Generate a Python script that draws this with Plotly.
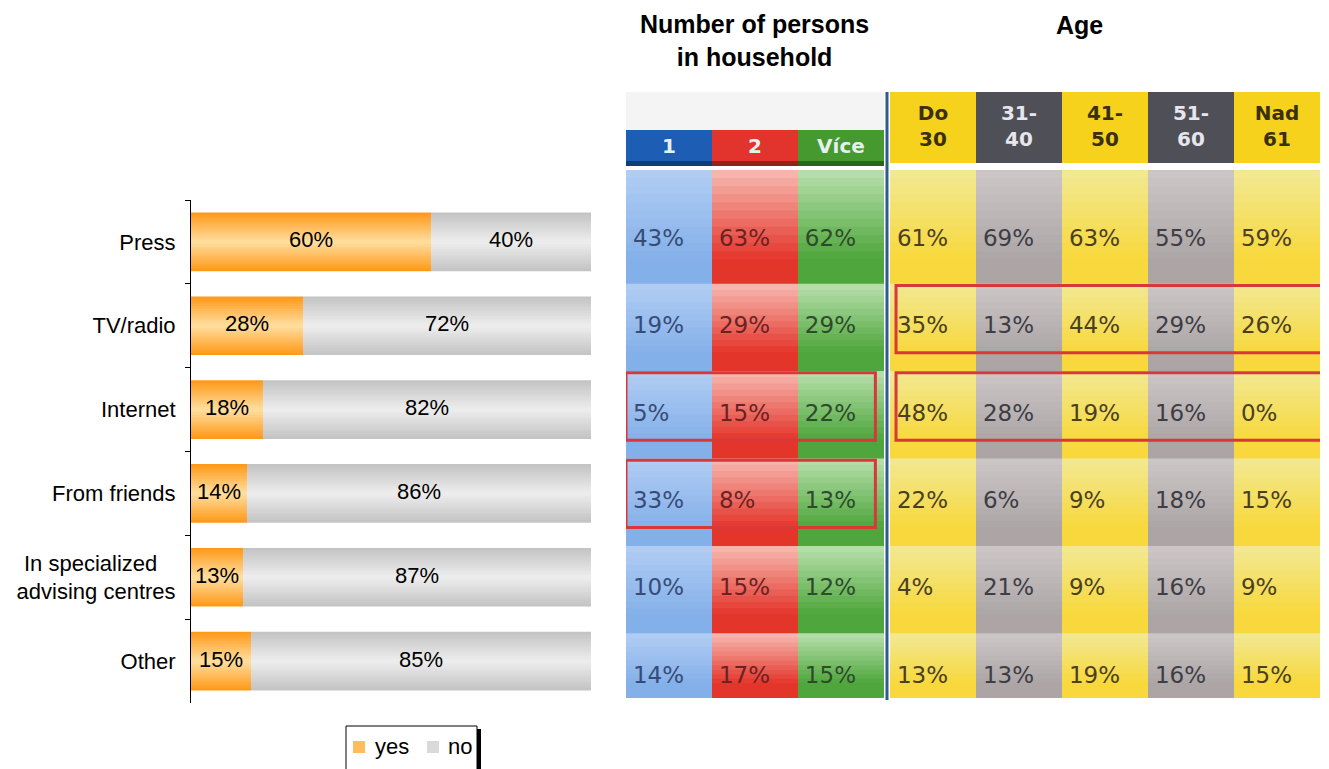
import plotly.graph_objects as go

# left chart: where people get information
categories = ["Press", "TV/radio", "Internet", "From friends",
              "In specialized&nbsp;&nbsp;&nbsp;<br>advising centres", "Other"]
yes = [60, 28, 18, 14, 13, 15]
no = [40, 72, 82, 86, 87, 85]

# right table: share of "yes" by household size and age group
hh_cols = ["1", "2", "Více"]
age_cols = ["Do<br>30", "31-<br>40", "41-<br>50", "51-<br>60", "Nad<br>61"]
hh_1 = [43, 19, 5, 33, 10, 14]
hh_2 = [63, 29, 15, 8, 15, 17]
hh_more = [62, 29, 22, 13, 12, 15]
age_30 = [61, 35, 48, 22, 4, 13]
age_31_40 = [69, 13, 28, 6, 21, 13]
age_41_50 = [63, 44, 19, 9, 9, 19]
age_51_60 = [55, 29, 16, 18, 16, 16]
age_61 = [59, 26, 0, 15, 9, 15]
# highlighted blocks: (row, first column, last column)
highlights = [(1, 3, 7), (2, 3, 7), (2, 0, 2), (3, 0, 2)]

W, H = 1329, 769


def px(x):
    return x / W


def py(y):
    return 1 - y / H


def mix(c1, c2, t):
    a = [int(c1[i:i + 2], 16) for i in (1, 3, 5)]
    b = [int(c2[i:i + 2], 16) for i in (1, 3, 5)]
    return "#" + "".join("%02x" % round(a[k] + (b[k] - a[k]) * t) for k in range(3))


FONT = "Liberation Sans, Arial, sans-serif"
fig = go.Figure()

# stacked bars, drawn as a few overlaid layers to fake the glossy gradient
n_layers = 12
for i in range(n_layers):
    t = i / (n_layers - 1)
    w = 0.70 * (1 - i / n_layers)
    fig.add_trace(go.Bar(y=categories, x=yes, base=0, orientation="h", width=w,
                         marker=dict(color=mix("#ff9a1c", "#ffdc9a", t), line_width=0),
                         hoverinfo="skip", showlegend=False))
    fig.add_trace(go.Bar(y=categories, x=no, base=yes, orientation="h", width=w,
                         marker=dict(color=mix("#c4c4c4", "#ececec", t), line_width=0),
                         hoverinfo="skip", showlegend=False))

fig.add_trace(go.Scatter(y=categories, x=[v / 2 for v in yes], mode="text",
                         text=["%d%%" % v for v in yes],
                         textfont=dict(family=FONT, size=22, color="black"),
                         showlegend=False, hoverinfo="skip"))
fig.add_trace(go.Scatter(y=categories, x=[a + b / 2 for a, b in zip(yes, no)], mode="text",
                         text=["%d%%" % v for v in no],
                         textfont=dict(family=FONT, size=22, color="black"),
                         showlegend=False, hoverinfo="skip"))

# ---- right table ----
ROW0, ROWH = 240, 87.4   # pixel centre of first row, row pitch


def ry(p):
    return (p - ROW0) / ROWH


GAP = 0.07


def col_left(i):
    return i + (GAP if i >= 3 else 0)


blue = ("#b0ccf3", "#84b0e9", "#364c78")
red = ("#f6b4ac", "#e4352a", "#6a2222")
green = ("#b4dda8", "#4ea63c", "#2d4b2a")
yellow = ("#f2e890", "#f8d83c", "#4a4020")
grey = ("#ccc5c5", "#ada5a5", "#3d3d46")
styles = [blue, red, green, yellow, grey, yellow, grey, yellow]
all_vals = [hh_1, hh_2, hh_more, age_30, age_31_40, age_41_50, age_51_60, age_61]
n_rows = len(hh_1)

bounds = [ry(170)] + [k + 0.5 for k in range(n_rows - 1)] + [ry(697)]
n_strips = 14
for i, st in enumerate(styles):
    x0 = col_left(i)
    for k in range(n_rows):
        y0, y1 = bounds[k], bounds[k + 1]
        h = (y1 - y0) / n_strips
        for j in range(n_strips):
            t = min(1.0, j / (n_strips * 0.75))
            fig.add_shape(type="rect", xref="x2", yref="y2", layer="below",
                          x0=x0, x1=x0 + 1, y0=y0 + j * h, y1=y0 + (j + 1) * h + 0.012,
                          fillcolor=mix(st[0], st[1], t), line_width=0)

# headers
fig.add_shape(type="rect", xref="x2", yref="y2", layer="below", x0=0, x1=3,
              y0=ry(92), y1=ry(130), fillcolor="#f4f4f4", line_width=0)
hh_head = ["#1d5db3", "#e2342c", "#45992f"]
for i, c in enumerate(hh_head):
    fig.add_shape(type="rect", xref="x2", yref="y2", layer="below", x0=col_left(i), x1=col_left(i) + 1,
                  y0=ry(130), y1=ry(166), fillcolor=c, line_width=0)
    fig.add_shape(type="rect", xref="x2", yref="y2", layer="below", x0=col_left(i), x1=col_left(i) + 1,
                  y0=ry(161), y1=ry(166), fillcolor=mix(c, "#000000", 0.35), line_width=0)
age_head = ["#f6d21c", "#4f4f57", "#f6d21c", "#4f4f57", "#f6d21c"]
for i, c in enumerate(age_head):
    fig.add_shape(type="rect", xref="x2", yref="y2", layer="below", x0=col_left(i + 3), x1=col_left(i + 3) + 1,
                  y0=ry(92), y1=ry(163), fillcolor=c, line_width=0)

fig.add_trace(go.Scatter(x=[col_left(i) + 0.5 for i in range(3)], y=[ry(148)] * 3,
                         mode="text", text=["<b>%s</b>" % c for c in hh_cols],
                         textfont=dict(family="DejaVu Sans", size=20, color="#e4f2ee"),
                         xaxis="x2", yaxis="y2", showlegend=False, hoverinfo="skip"))
fig.add_trace(go.Scatter(x=[col_left(i + 3) + 0.5 for i in range(5)], y=[ry(128)] * 5,
                         mode="text", text=["<b>%s</b>" % c for c in age_cols],
                         textfont=dict(family="DejaVu Sans", size=20,
                                       color=["#3a3010" if c == "#f6d21c" else "#e6e6ec" for c in age_head]),
                         xaxis="x2", yaxis="y2", showlegend=False, hoverinfo="skip"))

# values
for i, vals in enumerate(all_vals):
    fig.add_trace(go.Scatter(x=[col_left(i) + 0.08] * n_rows, y=list(range(n_rows)),
                             mode="text", textposition="middle right",
                             text=["%d%%" % v for v in vals],
                             textfont=dict(family="Verdana, DejaVu Sans", size=23, color=styles[i][2]),
                             xaxis="x2", yaxis="y2", showlegend=False, hoverinfo="skip"))

# divider
fig.add_shape(type="line", xref="x2", yref="y2", x0=3 + GAP / 2, x1=3 + GAP / 2,
              y0=ry(92), y1=ry(700), line=dict(color="#2b5c8a", width=3))

# red highlight frames
for r, c0, c1 in highlights:
    if c0 >= 3:
        x0, x1 = col_left(c0) + 0.07, col_left(c1) + 1.02
    else:
        x0, x1 = col_left(c0), col_left(c1) + 0.9
    fig.add_shape(type="rect", xref="x2", yref="y2", x0=x0, x1=x1, y0=r - 0.48, y1=r + 0.29,
                  line=dict(color="#d8383a", width=3))

# titles
fig.add_annotation(x=px(754), y=py(40), xref="paper", yref="paper", showarrow=False,
                   xanchor="center", yanchor="middle",
                   text="<b>Number of persons<br>in household</b>",
                   font=dict(family=FONT, size=25, color="black"))
fig.add_annotation(x=px(1079), y=py(25), xref="paper", yref="paper", showarrow=False,
                   xanchor="center", yanchor="middle",
                   text="<b>Age</b>", font=dict(family=FONT, size=25, color="black"))

# legend box (drawn by hand, it is clipped at the bottom like the original)
fig.add_shape(type="rect", xref="paper", yref="paper", x0=px(346), x1=px(477), y0=py(790), y1=py(726),
              line=dict(color="black", width=1), fillcolor="white")
fig.add_shape(type="rect", xref="paper", yref="paper", x0=px(477), x1=px(481), y0=py(790), y1=py(729),
              line_width=0, fillcolor="black")
fig.add_shape(type="rect", xref="paper", yref="paper", x0=px(353), x1=px(365), y0=py(753), y1=py(741),
              line_width=0, fillcolor="#ffbc5c")
fig.add_shape(type="rect", xref="paper", yref="paper", x0=px(427), x1=px(439), y0=py(753), y1=py(741),
              line_width=0, fillcolor="#d9d9d9")
fig.add_annotation(x=px(373), y=py(746), xref="paper", yref="paper", xanchor="left", yanchor="middle",
                   showarrow=False, text="yes", font=dict(family=FONT, size=22, color="black"))
fig.add_annotation(x=px(446), y=py(746), xref="paper", yref="paper", xanchor="left", yanchor="middle",
                   showarrow=False, text="no", font=dict(family=FONT, size=22, color="black"))

fig.update_layout(
    width=W, height=H, margin=dict(l=0, r=0, t=0, b=0),
    paper_bgcolor="white", plot_bgcolor="rgba(0,0,0,0)",
    barmode="overlay", showlegend=False,
    xaxis=dict(domain=[px(191), px(591)], range=[0, 100], visible=False),
    yaxis=dict(domain=[py(703), py(200)], type="category", categoryorder="array",
               categoryarray=categories, autorange="reversed",
               showline=True, linecolor="black", linewidth=1, showgrid=False, zeroline=False,
               ticks="outside", tickson="boundaries", ticklen=5, tickcolor="black",
               ticklabelstandoff=10,
               tickfont=dict(family=FONT, size=22, color="black")),
    xaxis2=dict(domain=[px(626), px(1320)], range=[0, 8 + GAP], visible=False, anchor="y2"),
    yaxis2=dict(domain=[0, 1], range=[ry(H), ry(0)], visible=False, anchor="x2"),
)

# the page body has a default 8px margin; drop it so the figure sits at 0,0
fig.write_html("out.html", config={"displayModeBar": False},
               post_script="document.body.style.margin='0';")
